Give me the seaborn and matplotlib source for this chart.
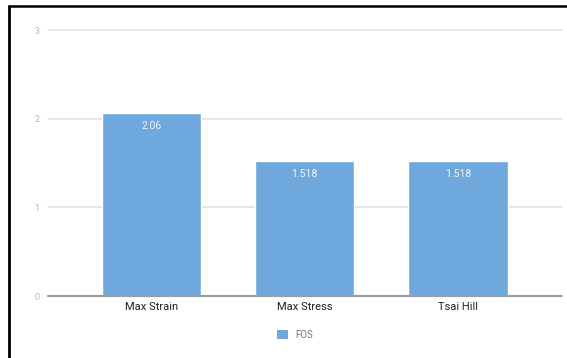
import matplotlib
matplotlib.use("Agg")
import matplotlib.pyplot as plt
import seaborn as sns
import pandas as pd
from matplotlib.lines import Line2D
from matplotlib.patches import Patch

categories = ["Max Strain", "Max Stress", "Tsai Hill"]
fos_values = [2.06, 1.518, 1.518]
value_labels = ["2.06", "1.518", "1.518"]
series_name = "FOS"
y_ticks = [0, 1, 2, 3]

sns.set_theme(style="white")
plt.rcParams['font.family'] = ['Roboto', 'DejaVu Sans']

W, H = 567, 358
fig = plt.figure(figsize=(W / 100, H / 100), dpi=100)
ax = fig.add_axes([48 / W, (H - 296) / H, (561.7 - 48) / W, (296 - 30) / H])

df = pd.DataFrame({"cat": categories, "val": fos_values, "series": [series_name] * 3})
bar_color = "#6fa8dc"
sns.barplot(data=df, x="cat", y="val", color=bar_color, width=0.65, ax=ax,
            saturation=1, errorbar=None, zorder=3)

ax.set_xlim(-0.675, 2.678)
ax.set_ylim(0, 3)
ax.set_yticks(y_ticks)
ax.set_yticklabels([str(t) for t in y_ticks], color="#b7b7b7", fontsize=6.5)
ax.tick_params(axis="y", length=0, pad=6)
ax.tick_params(axis="x", length=0, pad=4, labelsize=8, labelcolor="#222222")
ax.set_xlabel("")
ax.set_ylabel("")
for s in ax.spines.values():
    s.set_visible(False)
for t in y_ticks[1:]:
    ax.axhline(t, color="#e2e2e2", lw=1.2, zorder=1, clip_on=False)
ax.axhline(0, color="#9e9e9e", lw=1.6, zorder=4, clip_on=False)

for i, (v, lab) in enumerate(zip(fos_values, value_labels)):
    ax.annotate(lab, (i, v), xytext=(0, -9), textcoords="offset points",
                ha="center", va="center", color="#f4f8fc", fontsize=7.5, zorder=5)

handle = Patch(facecolor=bar_color, edgecolor="none")
fig.legend([handle], [series_name], loc="center", bbox_to_anchor=(295 / W, (H - 335) / H),
           frameon=False, fontsize=7, labelcolor="#757575", handlelength=1.1,
           handleheight=1.1, handletextpad=0.7)

# screenshot border
fig.add_artist(Line2D([8.5 / W, 1], [(H - 5.5) / H, (H - 5.5) / H], color="black", lw=1.8,
                      transform=fig.transFigure))
fig.add_artist(Line2D([8.5 / W, 8.5 / W], [0, (H - 5.5) / H], color="black", lw=2.0,
                      transform=fig.transFigure))

fig.savefig("out.png", dpi=100)
